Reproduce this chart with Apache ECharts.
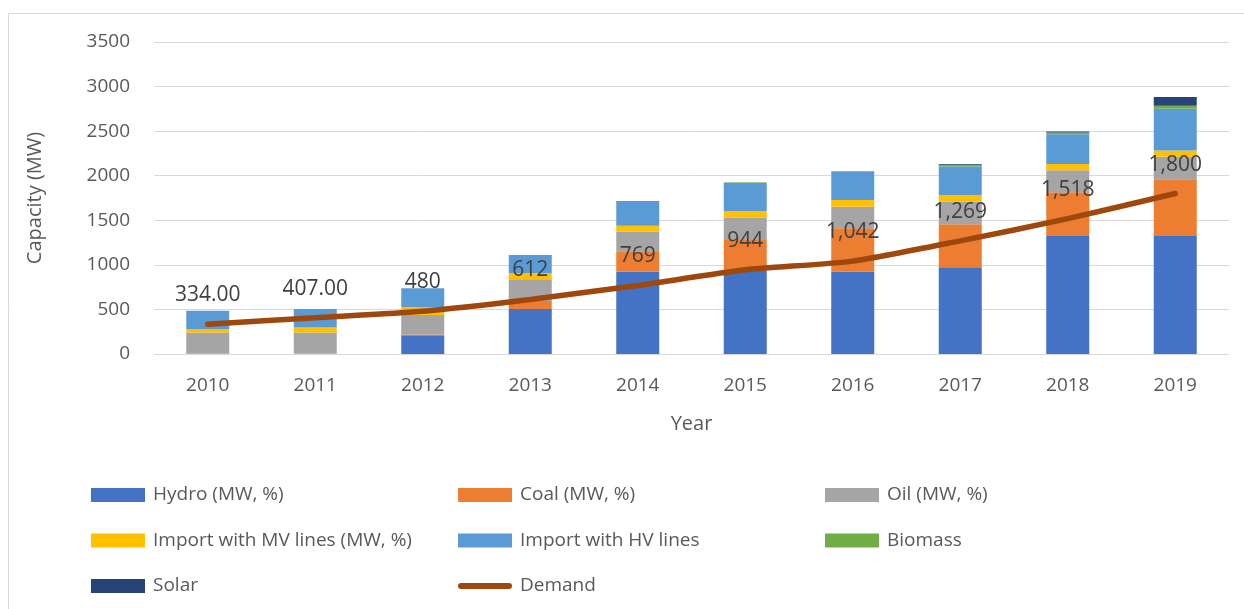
<!DOCTYPE html>
<html>
<head>
<meta charset="utf-8">
<script src="https://cdn.jsdelivr.net/npm/echarts@6/dist/echarts.min.js"></script>
<style>
  html, body { margin: 0; padding: 0; background: #fff; }
  #chart { width: 1244px; height: 609px; }
</style>
</head>
<body>
<div id="chart"></div>
<script>
// data (MW)
const years = ['2010', '2011', '2012', '2013', '2014', '2015', '2016', '2017', '2018', '2019']
const hydro = [0, 0, 210, 505, 924, 931, 924, 973, 1324, 1324]
const coal = [5, 5, 10, 90, 229, 348, 486, 482, 490, 636]
const oil = [235, 235, 218, 243, 220, 251, 243, 255, 247, 254]
const importMV = [41, 56, 86, 68, 67, 75, 75, 75, 71, 68]
const importHV = [203, 210, 213, 205, 277, 315, 320, 317, 333, 468]
const biomass = [0, 0, 0, 0, 0, 7, 6, 20, 20, 35]
const solar = [0, 0, 0, 0, 0, 0, 0, 10, 10, 97]
const demand = [334, 407, 480, 612, 769, 944, 1042, 1269, 1518, 1800]
const demandLabels = ['334.00', '407.00', '480', '612', '769', '944', '1,042', '1,269', '1,518', '1,800']
const yTicks = [0, 500, 1000, 1500, 2000, 2500, 3000, 3500]

const font = '"Open Sans", sans-serif'
const grey = '#595959'
const demandColor = '#9E480E'

const bar = (name, data, color) => ({
  name,
  type: 'bar',
  stack: 'cap',
  barWidth: 43,
  data,
  itemStyle: { color },
  emphasis: { disabled: true }
})

const legendCol = (left, names) => ({
  orient: 'vertical',
  left,
  top: 484,
  padding: 0,
  icon: 'rect',
  itemWidth: 54,
  itemHeight: 14,
  itemGap: 23.5,
  data: names,
  textStyle: { color: grey, fontSize: 19, fontFamily: font, lineHeight: 22, padding: [0, 0, 0, 3] }
})

const chart = echarts.init(document.getElementById('chart'))
chart.setOption({
  animation: false,
  textStyle: { fontFamily: font },
  graphic: [{
    type: 'rect',
    shape: { x: 8.5, y: 13.5, width: 1400, height: 800 },
    style: { fill: 'none', stroke: '#d9d9d9', lineWidth: 1 },
    silent: true
  }],
  grid: { left: 154, right: 15, top: 42, bottom: 255, containLabel: false },
  legend: [
    legendCol(91, ['Hydro (MW, %)', 'Import with MV lines (MW, %)', 'Solar']),
    legendCol(458, ['Coal (MW, %)', 'Import with HV lines', {
      name: 'Demand',
      icon: 'path://M3,0 L51,0 A3,3 0 0 1 51,6 L3,6 A3,3 0 0 1 3,0 Z',
      itemStyle: { color: demandColor }
    }]),
    legendCol(825, ['Oil (MW, %)', 'Biomass'])
  ],
  xAxis: {
    type: 'category',
    data: years,
    name: 'Year',
    nameLocation: 'middle',
    nameGap: 60,
    nameTextStyle: { color: grey, fontSize: 20 },
    axisLine: { show: false },
    axisTick: { show: false },
    axisLabel: { color: grey, fontSize: 19, margin: 22 }
  },
  yAxis: {
    type: 'value',
    min: 0,
    max: yTicks[yTicks.length - 1],
    interval: 500,
    name: 'Capacity (MW)',
    nameLocation: 'middle',
    nameGap: 109,
    nameTextStyle: { color: grey, fontSize: 20 },
    axisLine: { show: false },
    axisTick: { show: false },
    axisLabel: { color: grey, fontSize: 19, margin: 24, formatter: v => String(v) },
    splitLine: { lineStyle: { color: '#d9d9d9', width: 1 } }
  },
  series: [
    bar('Hydro (MW, %)', hydro, '#4472C4'),
    bar('Coal (MW, %)', coal, '#ED7D31'),
    bar('Oil (MW, %)', oil, '#A5A5A5'),
    bar('Import with MV lines (MW, %)', importMV, '#FFC000'),
    bar('Import with HV lines', importHV, '#5B9BD5'),
    bar('Biomass', biomass, '#70AD47'),
    bar('Solar', solar, '#264478'),
    {
      name: 'Demand',
      type: 'line',
      data: demand,
      smooth: 0.2,
      symbol: 'circle',
      symbolSize: 1,
      lineStyle: { color: demandColor, width: 5.5, cap: 'round' },
      itemStyle: { color: demandColor },
      label: {
        show: true,
        position: 'top',
        distance: 18,
        color: '#404040',
        fontSize: 21,
        formatter: p => demandLabels[p.dataIndex]
      },
      emphasis: { disabled: true },
      z: 5
    }
  ]
})
</script>
</body>
</html>
